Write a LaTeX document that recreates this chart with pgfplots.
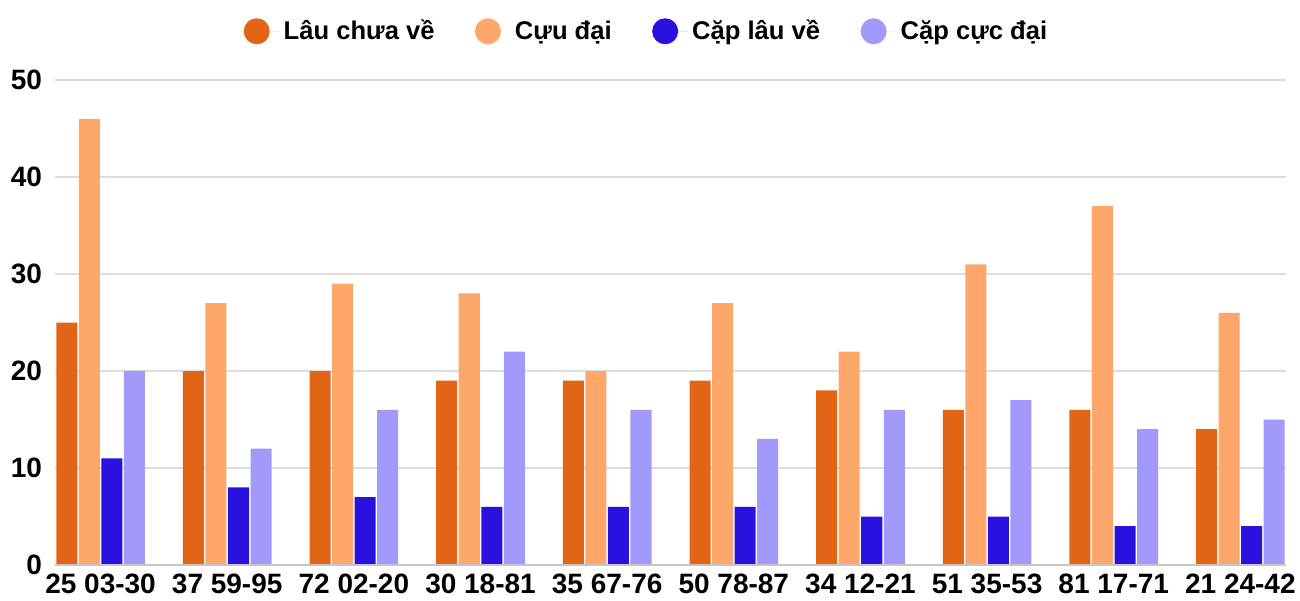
\documentclass[border=0pt]{standalone}
\usepackage{pgfplots}
\pgfplotsset{compat=1.18}
\usepackage{fontspec}
\setmainfont{Liberation Sans}
\definecolor{cA}{HTML}{E26415}
\definecolor{cB}{HTML}{FFA66A}
\definecolor{cC}{HTML}{2912E0}
\definecolor{cD}{HTML}{A19AFC}
\definecolor{gridc}{HTML}{DCDCDC}
\begin{document}
\begin{tikzpicture}
\path[use as bounding box] (-27.5pt,-17.5pt) rectangle (622.5pt,282.5pt);
\begin{axis}[
  at={(0,0)}, anchor=south west,
  scale only axis, width=615.5pt, height=242.5pt,
  xmin=-0.36, xmax=9.36, ymin=0, ymax=50,
  axis line style={draw=none},
  ytick={0,10,20,30,40,50},
  xtick={0,...,9},
  xticklabels={25 03-30,37 59-95,72 02-20,30 18-81,35 67-76,50 78-87,34 12-21,51 35-53,81 17-71,21 24-42},
  major tick length=0pt,
  ymajorgrids, grid style={gridc, line width=0.6pt},
  /pgf/number format/assume math mode=true,
  ticklabel style={font=\fontsize{14}{16}\selectfont\bfseries},
  yticklabel style={xshift=-3pt},
  xticklabel style={yshift=-1pt},
  ybar, bar width=0.166,
  legend style={at={(0.4813,1)}, anchor=south, yshift=14.5pt, draw=none, fill=none,
    legend columns=4, font=\fontsize{12.8}{14}\selectfont\bfseries,
    /tikz/every even column/.append style={column sep=18.2pt}},
  legend image code/.code={\fill[#1] (0cm,0cm) circle (6.5pt); \path (-6.5pt,0) -- (11.5pt,0);},
]
\addplot[fill=cA, draw=none, bar shift=-0.267] coordinates {(0,25)(1,20)(2,20)(3,19)(4,19)(5,19)(6,18)(7,16)(8,16)(9,14)};
\addplot[fill=cB, draw=none, bar shift=-0.089] coordinates {(0,46)(1,27)(2,29)(3,28)(4,20)(5,27)(6,22)(7,31)(8,37)(9,26)};
\addplot[fill=cC, draw=none, bar shift=0.089] coordinates {(0,11)(1,8)(2,7)(3,6)(4,6)(5,6)(6,5)(7,5)(8,4)(9,4)};
\addplot[fill=cD, draw=none, bar shift=0.267] coordinates {(0,20)(1,12)(2,16)(3,22)(4,16)(5,13)(6,16)(7,17)(8,14)(9,15)};
\legend{Lâu chưa về, Cựu đại, Cặp lâu về, Cặp cực đại}
\draw[gridc!90!black, line width=0.6pt] (axis cs:-0.36,0) -- (axis cs:9.36,0);
\end{axis}
\end{tikzpicture}
\end{document}
